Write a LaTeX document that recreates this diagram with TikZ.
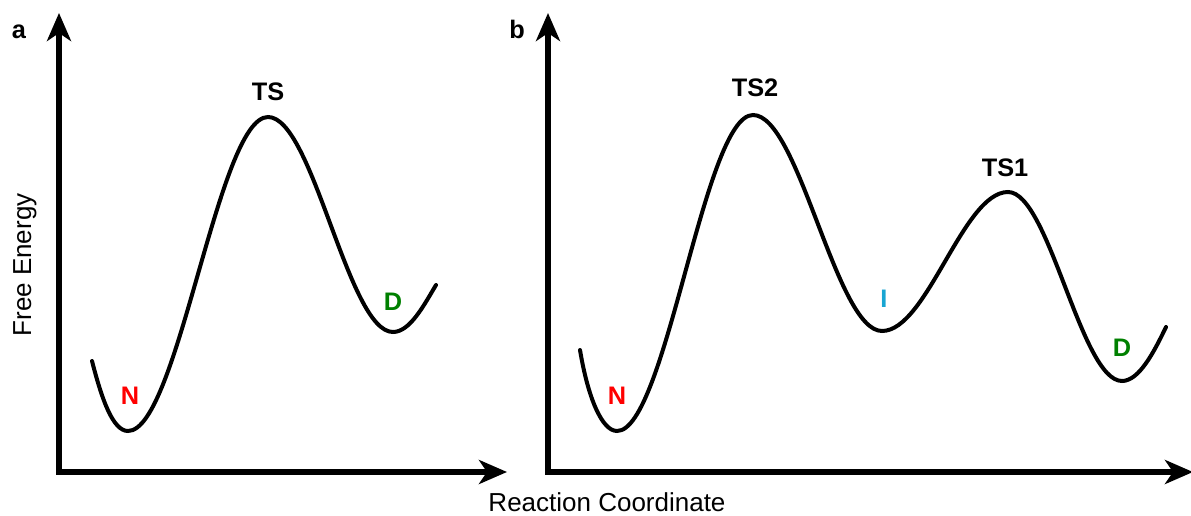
\documentclass[tikz,border=0pt]{standalone}
\usepackage{fontspec}
\setmainfont{Liberation Sans}
\usetikzlibrary{arrows.meta,calc}
\definecolor{nred}{RGB}{255,0,0}
\definecolor{dgreen}{RGB}{0,128,0}
\definecolor{iblue}{RGB}{25,165,210}
\begin{document}
\begin{tikzpicture}[x=0.75pt,y=-0.75pt,
  axis/.style={line width=4.5pt,-{Stealth[length=21pt,width=18pt,inset=6pt]}},
  curve/.style={line width=3pt,line cap=round},
  lbl/.style={font=\fontsize{19}{22}\selectfont\bfseries,inner sep=0pt},
  panel/.style={font=\fontsize{19}{22}\selectfont\bfseries,inner sep=0pt},
  axlbl/.style={font=\fontsize{19.5}{24}\selectfont,inner sep=0pt}]
\useasboundingbox (0,0) rectangle (1191,516);
% panel a
\coordinate (ao) at (59,472);
\coordinate (ay) at (59,13);
\coordinate (ax) at (507,472);
\coordinate (ao2) at (56,472);
\draw[axis] (ao) -- (ay);
\draw[axis] (ao2) -- (ax);
\node[panel] (pa) at (19,31.5) {a};
\node[axlbl,rotate=90] (fe) at (25,265) {Free Energy};
\coordinate (a0) at (92,361);
\coordinate (aN) at (128,431);
\coordinate (aTS) at (268,117);
\coordinate (aD) at (393,332);
\coordinate (a1) at (436,285);
\draw[curve] (a0) .. controls (102,400) and (113,431) .. (aN)
  .. controls (178,431) and (218,117) .. (aTS)
  .. controls (313,117) and (348,332) .. (aD)
  .. controls (410,332) and (424,305) .. (a1);
\node[lbl] (lTS) at (268,92) {TS};
\node[lbl,text=nred] (lNa) at (130,396) {N};
\node[lbl,text=dgreen] (lDa) at (393,302) {D};
% panel b
\coordinate (bo) at (548,472);
\coordinate (by) at (548,13);
\coordinate (bx) at (1193,472);
\coordinate (bo2) at (545,472);
\draw[axis] (bo) -- (by);
\draw[axis] (bo2) -- (bx);
\node[panel] (pb) at (517,29) {b};
\node[axlbl,anchor=base] (rc) at (607,511.5) {Reaction Coordinate};
\coordinate (b0) at (580,350);
\coordinate (bN) at (617,431);
\coordinate (bTS2) at (753,115);
\coordinate (bI) at (882,331);
\coordinate (bTS1) at (1008,192);
\coordinate (bD) at (1122,381);
\coordinate (b1) at (1166,327);
\draw[curve] (b0) .. controls (588,398) and (602,431) .. (bN)
  .. controls (666,431) and (704,115) .. (bTS2)
  .. controls (799,115) and (836,331) .. (bI)
  .. controls (927,331) and (963,192) .. (bTS1)
  .. controls (1049,192) and (1081,381) .. (bD)
  .. controls (1139,381) and (1154,352) .. (b1);
\node[lbl] (lTS2) at (755,88) {TS2};
\node[lbl] (lTS1) at (1005,168) {TS1};
\node[lbl,text=iblue] (lI) at (884,299) {I};
\node[lbl,text=nred] (lNb) at (617,396) {N};
\node[lbl,text=dgreen] (lDb) at (1122,348) {D};
\end{tikzpicture}
\end{document}
